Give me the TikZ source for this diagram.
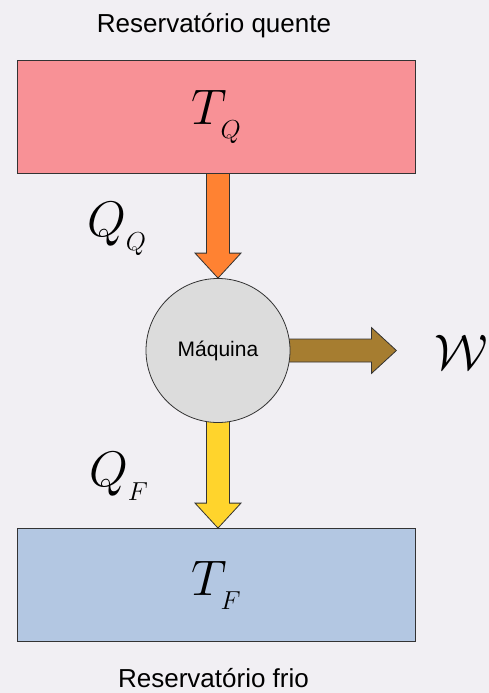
\RequirePackage{fix-cm}
\documentclass[tikz,border=0pt]{standalone}
\usepackage{fontspec}
\setsansfont{Liberation Sans}
\definecolor{Hotcol}{HTML}{F89196}
\definecolor{Coldcol}{HTML}{B3C7E2}
\definecolor{Enginecol}{HTML}{DCDCDC}
\definecolor{QHcol}{HTML}{FF8232}
\definecolor{QCcol}{HTML}{FFD42C}
\definecolor{Workcol}{HTML}{A67D30}
\definecolor{Linecol}{HTML}{333333}
\definecolor{Bgcol}{HTML}{F1EFF3}
\usetikzlibrary{calc, positioning}
\pgfdeclarelayer{bg}
\pgfdeclarelayer{flow}
\pgfsetlayers{bg,flow,main}
\tikzset{
    font=\sffamily,
    reservoir/.style={draw=Linecol, line width=0.8pt, minimum width=398pt, minimum height=113pt, inner sep=0pt},
    flowline/.style={draw=Linecol, line width=0.8pt, line join=miter}
}
% big symbol with a low subscript
\newcommand{\heatlabel}[3][0pt]{{\fontsize{50}{60}\selectfont$#2$\kern#1\raisebox{-14pt}{\fontsize{26}{30}\selectfont$#3$}}}
% block arrow: start, tip, colour
\newcommand{\flowarrow}[3]{%
    \coordinate (hb) at ($(#2)!25pt!(#1)$);
    \draw[flowline, fill=#3] ($(#1)!11.5pt!90:(#2)$) -- ($(hb)!11.5pt!90:(#2)$) -- ($(hb)!23pt!90:(#2)$) -- (#2)
        -- ($(hb)!23pt!-90:(#2)$) -- ($(hb)!11.5pt!-90:(#2)$) -- ($(#1)!11.5pt!-90:(#2)$) -- cycle;
}

\begin{document}
\begin{tikzpicture}[x=1pt, y=-1pt]
    % Background
    \begin{pgfonlayer}{bg}
        \fill[Bgcol] (0,0) rectangle (489,693);
    \end{pgfonlayer}
    \useasboundingbox (0,0) rectangle (489,693);

    % Reservoirs
    \node[reservoir, fill=Hotcol] (hot) at (216,116.5) {\heatlabel[-6pt]{T}{Q}};
    \node[reservoir, fill=Coldcol] (cold) at (216,585) {\heatlabel[-6pt]{T}{F}};
    \node[anchor=base, font=\sffamily\fontsize{26}{30}\selectfont] (hotname) at (214,33) {Reservatório quente};
    \node[anchor=base, font=\sffamily\fontsize{26}{30}\selectfont] (coldname) at (213.5,687) {Reservatório frio};

    % Engine
    \node[circle, draw=Linecol, line width=0.8pt, fill=Enginecol, minimum size=144pt, inner sep=0pt,
          font=\sffamily\fontsize{21}{25}\selectfont] (engine) at (218,350.5) {Máquina};

    % Heat and work flows
    \coordinate (hotout) at (engine.north |- hot.south);
    \coordinate (coldin) at (engine.south |- cold.north);
    \coordinate (worktip) at ($(engine.east)+(106,0)$);
    \begin{pgfonlayer}{flow}
        \flowarrow{hotout}{engine.north}{QHcol}
        \flowarrow{engine.center}{coldin}{QCcol}
        \flowarrow{engine.center}{worktip}{Workcol}
    \end{pgfonlayer}

    % Labels
    \node (qhot) at (116.5,229) {\heatlabel{Q}{Q}};
    \node (qcold) at (118.5,476.5) {\heatlabel{Q}{F}};
    \node (work) at (461.5,352.5) {\fontsize{50}{60}\selectfont$\mathcal{W}$};
\end{tikzpicture}
\end{document}
